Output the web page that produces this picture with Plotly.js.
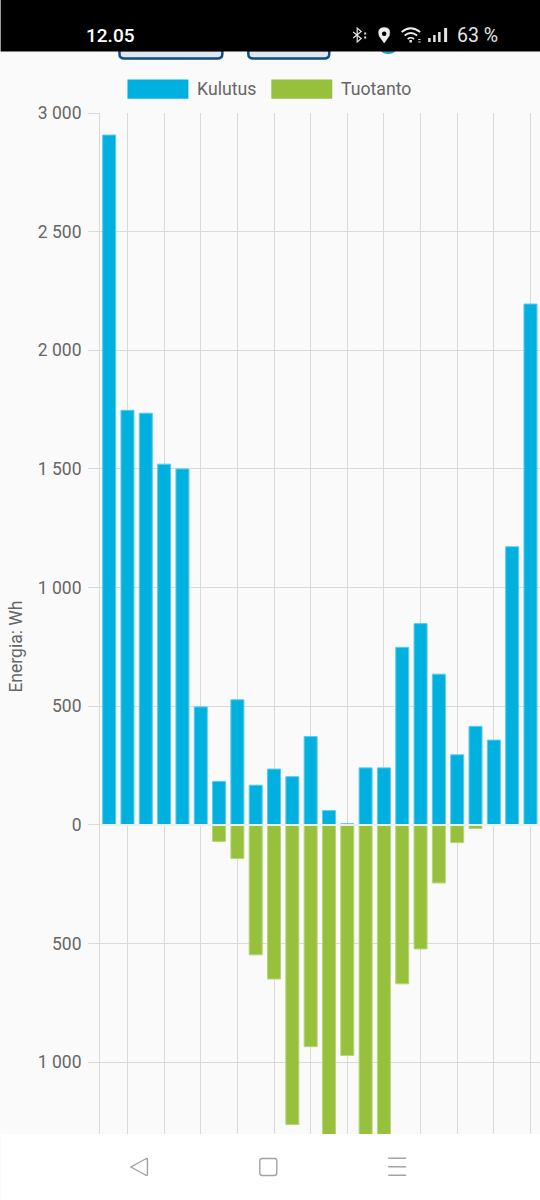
<!DOCTYPE html>
<html>
<head>
<meta charset="utf-8">
<script src="https://cdn.plot.ly/plotly-3.0.1.min.js"></script>
<style>html,body{margin:0;padding:0;background:#fff;overflow:hidden}#c{width:540px;height:1200px}</style>
</head>
<body>
<div id="c"></div>
<script>
const hours = [0,1,2,3,4,5,6,7,8,9,10,11,12,13,14,15,16,17,18,19,20,21,22,23];
const kulutus = [2907,1747,1735,1520,1500,497,183,527,167,235,203,372,60,5,240,240,748,848,635,295,415,357,1172,2195];
const tuotanto = [null,null,null,null,null,-3,-70,-142,-548,-650,-1263,-935,-1400,-972,-1400,-1400,-670,-523,-245,-75,-15,null,null,null];
const yTicks = [3000,2500,2000,1500,1000,500,0,-500,-1000];
const yLabels = ['3 000','2 500','2 000','1 500','1 000','500','0','500','1 000'];

const W = 540, H = 1200, ml = 99.5, mr = 0, mt = 113, mb = 66;
const pw = W - ml - mr, ph = H - mt - mb;
const px = x => (x - ml) / pw;
const py = y => 1 - (y - mt) / ph;
const rect = (x0, y0, x1, y1, fill, line, lw) => ({type:'rect', xref:'paper', yref:'paper', layer:'above',
  x0:px(x0), x1:px(x1), y0:py(y0), y1:py(y1), fillcolor:fill, line:{color:line||fill, width:lw||0}});
const poly = (d, fill, line, lw) => ({type:'path', xref:'paper', yref:'paper', layer:'above',
  path: d.replace(/(-?[\d.]+),(-?[\d.]+)/g, (m,a,b) => px(+a)+','+py(+b)),
  fillcolor: fill || 'rgba(0,0,0,0)', line:{color:line||fill, width:lw||0}});
const label = (x, y, text, size, color, anchor, extra) => Object.assign({xref:'paper', yref:'paper', x:px(x), y:py(y),
  text, showarrow:false, xanchor:anchor||'left', yanchor:'middle', font:{family:'Roboto', size, color}, borderpad:0, borderwidth:0}, extra||{});
const disc = (x0, y0, x1, y1, fill) => ({type:'circle', xref:'paper', yref:'paper', layer:'above',
  x0:px(x0), x1:px(x1), y0:py(y1), y1:py(y0), fillcolor:fill, line:{width:0}});

const shapes = [
  // app controls peeking out below the status bar
  poly('M119,50 L119,54 Q119,58.5 124,58.5 L217,58.5 Q222,58.5 222,54 L222,50 Z', '#dfe6f1', '#0f4f7c', 2.5),
  poly('M248,50 L248,54 Q248,58.5 253,58.5 L324,58.5 Q329,58.5 329,54 L329,50 Z', '#dfe6f1', '#0f4f7c', 2.5),
  disc(377, 32, 399, 54, '#1aa5c8'),
  // status bar
  rect(0, 0, 540, 51.5, '#000000'),
  // legend
  rect(127, 79.5, 188, 98.7, '#00b1df'),
  rect(271, 79.5, 332, 98.7, '#97c13d'),
  // bluetooth icon
  poly('M353,32 L361,38.5 L357,42 L357,28 L361,31.5 L353,38', null, '#e4e4e4', 1.2),
  rect(364, 32.5, 366, 34.5, '#e4e4e4'), rect(364, 36.5, 366, 38.5, '#e4e4e4'),
  // location icon
  poly('M384,43 L379,36 Q376.5,27.5 384,27.5 Q391.5,27.5 389,36 Z', '#f0f0f0', '#f0f0f0', 0.5),
  disc(381.7, 31.5, 386.3, 36, '#000000'),
  // wifi icon
  poly('M401.5,32 Q410.5,24.5 420,32', null, '#f0f0f0', 1.7),
  poly('M404.5,35.5 Q410.5,30.5 417,35.5', null, '#f0f0f0', 1.7),
  poly('M407.5,39 Q410.5,36.5 414,39', null, '#f0f0f0', 1.7),
  rect(409.3, 40, 411.7, 42.5, '#f0f0f0'),
  rect(418, 39, 420.5, 40, '#c8c8c8'), rect(418, 41.5, 420.5, 42.5, '#c8c8c8'),
  // signal icon
  rect(428, 38, 430.5, 42, '#e4e4e4'), rect(433, 35, 435.5, 42, '#e4e4e4'),
  rect(438, 32, 440.5, 42, '#e4e4e4'), rect(444, 28, 447, 42, '#e4e4e4'),
  // navigation bar
  rect(0, 1134, 540, 1200, '#ffffff'),
  poly('M147,1159 L147,1174 Q147,1176 145,1175 L130.5,1167 L145,1159 Q147,1158 147,1159 Z', null, '#a3a3a3', 1.4),
  poly('M262,1158.5 L274,1158.5 Q276.5,1158.5 276.5,1161 L276.5,1173 Q276.5,1175.5 274,1175.5 L262,1175.5 Q259.5,1175.5 259.5,1173 L259.5,1161 Q259.5,1158.5 262,1158.5 Z', null, '#a3a3a3', 1.4),
  rect(388, 1157.5, 406, 1159, '#a3a3a3'), rect(388, 1166, 406, 1167.5, '#a3a3a3'), rect(388, 1174.5, 406, 1176, '#a3a3a3')
];

const annotations = [
  label(85.5, 35, '12.05', 19, '#ffffff', 'left', {font:{family:'Roboto', size:19, color:'#ffffff', weight:500}}),
  label(456.5, 35, '63 %', 19.5, '#e4e4e4'),
  label(197, 88.5, 'Kulutus', 17.7, '#666666'),
  label(341, 88.5, 'Tuotanto', 17.7, '#666666'),
  label(15, 647, 'Energia: Wh', 17.5, '#666666', 'center', {textangle:-90})
];

const mk = (name, vals, color, edge) => ({type:'bar', name, x:hours, y:vals, width:0.71,
  marker:{color, line:{width:1, color:edge}}, hoverinfo:'skip'});

Plotly.newPlot('c', [mk('Kulutus', kulutus, '#00b1df', '#5ccbe9'), mk('Tuotanto', tuotanto, '#97c13d', '#b8d577')], {
  width:W, height:H, autosize:false, showlegend:false,
  paper_bgcolor:'#fafafa', plot_bgcolor:'#fafafa',
  margin:{l:ml, r:mr, t:mt, b:mb, pad:0},
  barmode:'overlay',
  font:{family:'Roboto', size:17.5, color:'#666666'},
  xaxis:{type:'linear', range:[-0.5,23.52], tick0:1, dtick:2, showgrid:true, gridcolor:'#d9d9d9', gridwidth:1,
    showticklabels:false, ticks:'', zeroline:false, showline:false},
  yaxis:{type:'linear', range:[-1303,3000], tickmode:'array', tickvals:yTicks, ticktext:yLabels,
    showgrid:true, gridcolor:'#d9d9d9', gridwidth:1, ticks:'outside', ticklen:11, tickcolor:'#d9d9d9', tickwidth:1,
    ticklabelstandoff:3,
    showline:true, linecolor:'#d9d9d9', linewidth:1, zeroline:true, zerolinecolor:'#eef0e8', zerolinewidth:2, zerolinelayer:'above traces',
    tickfont:{family:'Roboto', size:17.5, color:'#666666'}, automargin:false,
    title:{text:''}},
  shapes,
  annotations
}, {staticPlot:true, displayModeBar:false});
</script>
</body>
</html>
